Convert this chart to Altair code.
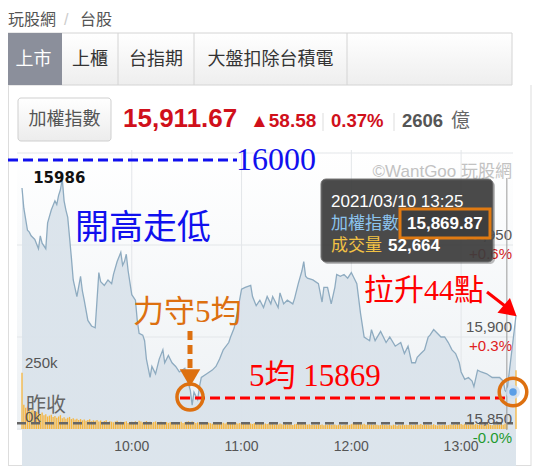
import altair as alt
import pandas as pd

W, H = 527, 458
OFF = 8

def px(x):
    return x - OFF

SANS = "Liberation Sans, Arial, Noto Sans CJK TC"
CJK = "Noto Sans CJK TC"
SERIF = "Liberation Serif, Noto Sans CJK TC"

# ---------------- data ----------------
price_times = ["09:00","09:01","09:03","09:04","09:05","09:07","09:09","09:10","09:11","09:13",
               "09:14","09:16","09:18","09:19","09:20","09:21","09:22","09:23","09:24","09:25",
               "09:27","09:28","09:30","09:32","09:33","09:34","09:36","09:38","09:40","09:41",
               "09:42","09:43","09:45","09:47","09:49","09:50","09:52","09:54","09:55","09:56",
               "09:57","09:58","10:00","10:02","10:03","10:04","10:06","10:07","10:08","10:10",
               "10:11","10:13","10:15","10:17","10:18","10:20","10:22","10:24","10:26","10:29",
               "10:30","10:32","10:33","10:34","10:36","10:37","10:38","10:41","10:44","10:46",
               "10:48","10:50","10:53","10:54","10:56","10:58","11:00","11:02","11:05","11:06",
               "11:08","11:10","11:12","11:14","11:16","11:17","11:20","11:21","11:23","11:25",
               "11:28","11:29","11:31","11:33","11:34","11:35","11:36","11:39","11:42","11:44",
               "11:45","11:47","11:49","11:51","11:52","11:54","11:56","11:58","12:00","12:01",
               "12:03","12:05","12:07","12:10","12:11","12:13","12:16","12:19","12:21","12:24",
               "12:27","12:29","12:31","12:33","12:35","12:36","12:38","12:40","12:42","12:43",
               "12:45","12:47","12:49","12:51","12:53","12:55","12:57","12:59","13:00","13:02",
               "13:04","13:06","13:07","13:09","13:11","13:14","13:17","13:19","13:21","13:23",
               "13:24","13:25","13:30"]
price_values = [15981,15970,15958,15957,15955,15953,15948,15955,15951,15948,
                15962,15969,15974,15972,15977,15980,15986,15974,15969,15965,
                15943,15931,15922,15933,15925,15920,15909,15906,15905,15920,
                15935,15930,15928,15931,15929,15934,15941,15946,15939,15941,
                15945,15936,15923,15920,15909,15902,15901,15898,15888,15878,
                15884,15880,15888,15893,15886,15890,15886,15884,15881,15883,
                15878,15871,15863,15870,15866,15873,15878,15880,15882,15884,
                15888,15893,15897,15900,15905,15915,15926,15927,15928,15922,
                15917,15920,15916,15922,15918,15922,15916,15924,15918,15920,
                15918,15921,15929,15936,15941,15933,15932,15931,15929,15919,
                15927,15927,15918,15927,15934,15933,15934,15932,15935,15933,
                15929,15913,15900,15898,15904,15898,15903,15897,15900,15895,
                15897,15891,15895,15886,15886,15889,15891,15893,15900,15901,
                15904,15902,15900,15900,15897,15893,15891,15886,15881,15877,
                15878,15876,15873,15882,15881,15880,15878,15878,15878,15876,
                15871,15869.87,15911.67]

# volume per minute 09:00 .. 13:30, in thousands
volume_k = [260,112,98,104,90,86,92,78,80,74,
            70,76,64,68,58,62,66,55,60,52,
            58,64,50,54,48,52,56,46,50,44,
            48,42,46,40,44,38,42,45,36,40,
            38,42,35,39,33,37,40,32,36,34,
            31,35,38,30,34,29,33,36,28,32,
            34,30,36,32,38,35,30,33,37,31,
            34,29,32,35,28,31,33,27,30,32,
            28,31,26,29,32,27,30,34,28,31,
            33,36,30,35,32,28,31,27,30,26,
            28,25,29,27,24,28,26,30,25,27,
            29,26,30,28,32,27,31,29,26,28,
            27,25,29,24,28,26,23,27,25,22,
            26,24,21,25,23,27,22,24,20,23,
            21,25,22,19,23,20,24,21,18,22,
            24,27,22,25,21,23,20,22,19,21,
            20,18,22,19,21,17,20,18,22,19,
            18,21,17,20,19,16,18,21,17,19,
            22,25,28,24,27,23,21,24,20,22,
            19,21,18,22,20,17,19,21,18,20,
            17,19,16,20,18,15,19,17,21,18,
            20,18,22,19,17,21,18,20,23,19,
            21,18,20,17,19,22,18,16,19,17,
            18,20,17,19,21,18,22,19,24,21,
            23,20,24,21,19,22,25,20,23,21,
            19,22,18,21,20,23,19,17,20,18,
            21,19,22,20,24,26,
            0,0,0,0,
            272]

hour_ticks = ["10:00", "11:00", "12:00", "13:00"]
grid_prices = [16000, 15950, 15900, 15850]
price_labels = ["15,950", "15,900", "15,850"]
label_prices = [15950, 15900, 15850]
pct_labels = ["+0.6%", "+0.3%", "-0.0%"]
pct_colors = ["#d42020", "#e02020", "#1f9a2f"]
vol_ticks = [250, 0]
vol_tick_labels = ["250k", "0k"]

prev_close = 15853.09
last_price = 15911.67
change = 58.58
change_pct = "0.37%"
turnover = "2606"
day_high_time, day_high = "09:22", 15986
hover_time, hover_price, hover_vol = "13:25", 15869.87, "52,664"


def to_min(s):
    h, m = s.split(":")
    return (int(h) - 9) * 60 + int(m)


price_df = pd.DataFrame({"t": [to_min(s) for s in price_times], "p": price_values})
vol_df = pd.DataFrame({"t": list(range(len(volume_k))), "v": volume_k})
grid_df = pd.DataFrame({"p": grid_prices})
hour_df = pd.DataFrame({"t": [to_min(s) for s in hour_ticks], "lab": hour_ticks})
plab_df = pd.DataFrame({"p": label_prices, "lab": price_labels, "pct": pct_labels, "c": pct_colors})
vlab_df = pd.DataFrame({"v": vol_ticks, "lab": vol_tick_labels})
prev_df = pd.DataFrame({"p": [prev_close]})
high_df = pd.DataFrame({"t": [to_min(day_high_time)], "p": [day_high], "lab": [str(day_high)]})
hover_df = pd.DataFrame({"t": [to_min(hover_time)], "p": [hover_price]})
ONE = pd.DataFrame({"k": [0]})

XS = alt.Scale(domain=[0, 270], range=[px(17), px(521)])
YP = alt.Scale(domain=[15850, 16000], range=[px(429), px(153)])
YV = alt.Scale(domain=[0, 250], range=[px(429), px(375)])

X = lambda f="t": alt.X(f + ":Q", scale=XS, axis=None)
YPc = lambda f="p": alt.Y(f + ":Q", scale=YP, axis=None)


# ---------------- helpers ----------------
def T(s, x, y, size, color, font=SANS, weight="normal", align="left", baseline="middle", opacity=1):
    return alt.Chart(ONE).mark_text(align=align, baseline=baseline, fontSize=size, font=font,
                                    fontWeight=weight, color=color, opacity=opacity).encode(
        x=alt.value(px(x)), y=alt.value(px(y)), text=alt.value(s))


def R(x1, y1, x2, y2, fill, stroke=None, sw=1, r=0, opacity=1):
    kw = dict(fill=fill, cornerRadius=r, opacity=opacity)
    if stroke:
        kw.update(stroke=stroke, strokeWidth=sw)
    return alt.Chart(ONE).mark_rect(**kw).encode(
        x=alt.value(px(x1)), x2=alt.value(px(x2)), y=alt.value(px(y1)), y2=alt.value(px(y2)))


def L(x1, y1, x2, y2, color, sw=1, dash=None, opacity=1):
    kw = dict(color=color, strokeWidth=sw, opacity=opacity)
    if dash:
        kw["strokeDash"] = dash
    return alt.Chart(ONE).mark_rule(**kw).encode(
        x=alt.value(px(x1)), x2=alt.value(px(x2)), y=alt.value(px(y1)), y2=alt.value(px(y2)))


def P(x, y, shape, size, color, filled=True, sw=1, angle=0, opacity=1):
    kw = dict(shape=shape, size=size, filled=filled, opacity=opacity, strokeWidth=sw, angle=angle)
    kw["fill" if filled else "stroke"] = color
    if filled:
        kw["strokeWidth"] = 0
    return alt.Chart(ONE).mark_point(**kw).encode(x=alt.value(px(x)), y=alt.value(px(y)))


def grad(stops):
    return alt.Gradient(gradient="linear", x1=0, x2=0, y1=0, y2=1,
                        stops=[alt.GradientStop(color=c, offset=o) for o, c in stops])


layers = []

# ---------------- page UI ----------------
layers += [
    T("玩股網", 8, 20, 16, "#555", font=CJK),
    T("/", 64, 20, 16, "#cccccc"),
    T("台股", 80, 20, 16, "#555", font=CJK),
    R(5, 33, 512, 85, grad([(0, "#ffffff"), (1, "#eeeeee")]), stroke="#d4d4d4"),
    R(5, 33, 62, 85, "#8b8f9b"),
    L(118, 33, 118, 85, "#d4d4d4"),
    L(194, 33, 194, 85, "#d4d4d4"),
    L(347, 33, 347, 85, "#d4d4d4"),
    T("上市", 33.5, 60, 18, "#ffffff", font=CJK, align="center"),
    T("上櫃", 90, 60, 18, "#333", font=CJK, align="center"),
    T("台指期", 156, 60, 18, "#333", font=CJK, align="center"),
    T("大盤扣除台積電", 270.5, 60, 18, "#333", font=CJK, align="center"),
    # panel borders
    L(8.5, 85, 8.5, 466, "#dddddd"),
    L(531, 85, 531, 466, "#dddddd"),
    L(5, 465.5, 531, 465.5, "#dddddd"),
    L(110, 466, 110, 474, "#dddddd"),
    L(215, 466, 215, 474, "#dddddd"),
    L(320, 466, 320, 474, "#dddddd"),
    L(425, 466, 425, 474, "#dddddd"),
    # quote header
    R(18, 98, 111, 141, grad([(0, "#ffffff"), (1, "#ececec")]), stroke="#cfcfcf", r=3),
    T("加權指數", 64.5, 120, 18, "#555", font=CJK, align="center"),
    T(f"{last_price:,.2f}", 123, 119, 26, "#d0101b", weight="bold"),
    T(f"▲{change:.2f}", 250, 121, 19, "#d0101b", weight="bold"),
    L(323, 113, 323, 131, "#dddddd"),
    T(change_pct, 331, 121, 18.5, "#d0101b", weight="bold"),
    L(394, 113, 394, 131, "#dddddd"),
    T(turnover, 402, 121, 18.5, "#555", weight="bold"),
    T("億", 451, 121, 19, "#666", font=CJK),
]

# ---------------- plot ----------------
layers += [
    R(17, 150, 513, 430, grad([(0, "#ffffff"), (1, "#edf1f4")])),
    alt.Chart(grid_df).mark_rule(color="#e3e6e9", strokeWidth=1).encode(
        y=YPc(), x=alt.value(px(17)), x2=alt.value(px(513))),
    alt.Chart(hour_df).mark_rule(color="#e3e6e9", strokeWidth=1).encode(
        x=X(), y=alt.value(px(150)), y2=alt.value(px(430))),
    alt.Chart(price_df).mark_area(fill=grad([(0, "#dae3eb"), (1, "#eef2f6")]), opacity=0.95).encode(
        x=X(), y=YPc(), y2=alt.value(px(429))),
    alt.Chart(price_df).mark_line(color="#8eabc0", strokeWidth=1.3).encode(x=X(), y=YPc()),
    alt.Chart(vol_df).mark_bar(color="#f6b53e", size=1.3, opacity=1).encode(
        x=X(), y=alt.Y("v:Q", scale=YV, axis=None), y2=alt.datum(0)),
    alt.Chart(prev_df).mark_rule(color="#666666", strokeWidth=2.5, strokeDash=[9, 5]).encode(
        y=YPc(), x=alt.value(px(17)), x2=alt.value(px(513))),
    alt.Chart(hour_df).mark_text(fontSize=14, font=SANS, color="#555", baseline="middle").encode(
        x=X(), y=alt.value(px(447)), text="lab:N"),
    alt.Chart(plab_df).mark_text(fontSize=15, font=SANS, color="#555", align="right", dy=-10).encode(
        y=YPc(), x=alt.value(px(512)), text="lab:N"),
    alt.Chart(plab_df).mark_text(fontSize=15, font=SANS, align="right", dy=9).encode(
        y=YPc(), x=alt.value(px(512)), text="pct:N", color=alt.Color("c:N", scale=None)),
    alt.Chart(vlab_df).mark_text(fontSize=15, font=SANS, color="#555", align="left", dy=-12).encode(
        y=alt.Y("v:Q", scale=YV, axis=None), x=alt.value(px(25)), text="lab:N"),
    T("昨收", 26, 406, 20, "#666", font=CJK),
    alt.Chart(hover_df).mark_rule(color="#9a9a9a", strokeWidth=1).encode(
        x=X(), y=alt.value(px(178)), y2=alt.value(px(430))),
    T("©WantGoo 玩股網", 512, 172, 17, "#c2c2c2", align="right"),
]

# ---------------- hand annotations ----------------
BLUE, RED, ORANGE = "#1010ee", "#ff0000", "#dd7010"
layers += [
    L(8, 160, 237, 160, BLUE, sw=3, dash=[10, 5]),
    T("16000", 236, 160, 32, BLUE, font=SERIF),
    alt.Chart(high_df).mark_text(fontSize=15, font="DejaVu Sans", fontWeight="bold", color="#111",
                                 dx=-3, dy=-1, baseline="middle").encode(x=X(), y=YPc(), text="lab:N"),
    T("開高走低", 75, 229, 34, BLUE, font=SERIF),
    T("力守5均", 133, 313, 31, ORANGE, font=SERIF),
    L(190, 331, 190, 368, ORANGE, sw=5, dash=[9, 5]),
    P(190, 378, "triangle-down", 420, ORANGE),
    L(180, 398, 510, 398, RED, sw=3, dash=[10, 5]),
    P(190, 397, "circle", 680, ORANGE, filled=False, sw=3.5),
    T("5均 15869", 249, 377, 31, RED, font=SERIF),
    T("拉升44點", 364, 291, 30, RED, font=SERIF),
    L(487, 292, 505, 306, RED, sw=3),
    P(508, 309, "triangle", 380, RED, angle=130),
    P(513, 392, "circle", 200, "#cfe0f4", opacity=0.8),
    P(513, 392, "circle", 55, "#5b9ee6"),
    P(513, 392, "circle", 760, ORANGE, filled=False, sw=3.5),
]

# ---------------- tooltip ----------------
layers += [
    R(323, 181, 495, 264, "#000000", r=5, opacity=0.25),
    R(321, 179, 493, 262, "#3e3e3e", stroke="#6a6a6a", r=5, opacity=0.9),
    T(f"2021/03/10 {hover_time}", 331, 202, 17, "#ffffff"),
    T("加權指數", 331, 224, 17, "#8cc4ee", font=CJK),
    R(400, 209, 490, 238, "#3e3e3e", stroke="#e07a12", sw=3, opacity=1),
    T(f"{hover_price:,.2f}", 407, 224, 17, "#ffffff", weight="bold"),
    T("成交量", 331, 246, 17, "#f2c244", font=CJK),
    T(hover_vol, 388, 246, 17, "#ffffff", weight="bold"),
]

chart = alt.layer(*layers).resolve_scale(y="independent").properties(
    width=W, height=H, autosize=alt.AutoSizeParams(type="none"), padding=0
).configure_view(stroke=None)

chart.save("out.html", embed_options={"renderer": "svg", "actions": False})
